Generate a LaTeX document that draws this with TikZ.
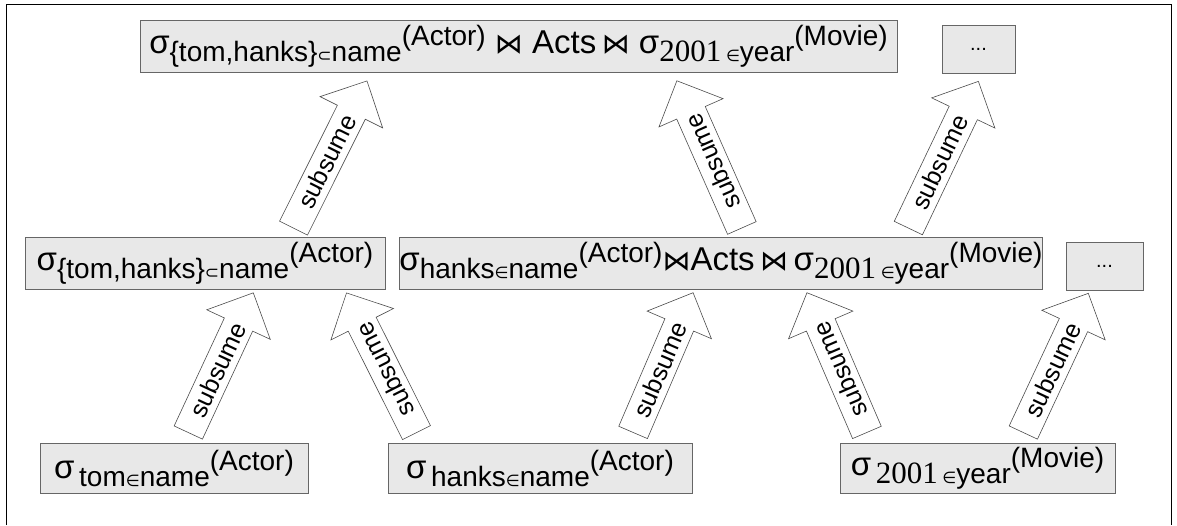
\documentclass[tikz,border=0pt]{standalone}
\usepackage{fontspec}
\setmainfont{Liberation Sans}
\newfontfamily\numfont{Liberation Serif}
\newfontfamily\symfont{DejaVu Sans}
\usetikzlibrary{shapes.arrows,calc}

% sub- and superscripts of the selections
\newcommand{\lowtxt}[1]{\raisebox{-8pt}{\fontsize{28}{28}\selectfont #1}}
\newcommand{\hightxt}[1]{\raisebox{8pt}{\fontsize{28}{28}\selectfont #1}}
\newcommand{\inop}{{\symfont\fontsize{16}{16}\selectfont ∈}}
\newcommand{\subop}{{\symfont\fontsize{17}{17}\selectfont ⊂}}
\newcommand{\joinop}{{\symfont\fontsize{28}{28}\selectfont ⋈}}
\newcommand{\yr}{{\numfont\fontsize{31}{31}\selectfont 2001}}

\newcommand{\subsumes}[2]{%
  \path let \p1=(#1), \p2=(#2),
    \n1={atan2(\y2-\y1,\x2-\x1)}, \n2={veclen(\x2-\x1,\y2-\y1)} in
    node[subarrow,rotate=\n1,minimum height=\n2] at ($(\p1)!.5!(\p2)$) {subsume};}

\begin{document}
\begin{tikzpicture}[x=1pt,y=-1pt,
    relbox/.style={draw=black!60,fill=black!9,line width=0.8pt,
      minimum height=52pt,inner sep=0pt,font=\fontsize{33}{34}\selectfont},
    subarrow/.style={single arrow,draw=black!70,fill=white,line width=0.6pt,
      single arrow head extend=18pt,single arrow head indent=0pt,
      minimum width=70pt,inner sep=5pt,font=\fontsize{25}{27}\selectfont}
    ]
  \useasboundingbox (0,0) rectangle (1177,525);
  \draw[line width=1pt] (6,525) -- (6,4) -- (1171,4) -- (1171,525);

  % level 3
  \node[relbox,minimum width=757pt] (top) at (518.5,46.5)
    {σ\lowtxt{\{tom,hanks\}\subop name}\hightxt{(Actor)} \joinop\ Acts\,\joinop\ σ\lowtxt{\yr\,\inop year}\hightxt{(Movie)}};
  \node[relbox,minimum width=73pt,minimum height=48pt,font=\fontsize{20}{22}\selectfont] (topdots) at (978.5,49) {...};

  % level 2
  \node[relbox,minimum width=360pt] (tomhanks) at (205,263.5)
    {σ\lowtxt{\{tom,hanks\}\subop name}\hightxt{(Actor)}};
  \node[relbox,minimum width=638pt] (hanksjoin) at (721,263.5)
    {σ\lowtxt{hanks\inop name}\hightxt{(Actor)}\joinop{}Acts\,\joinop\,σ\lowtxt{\yr\,\inop year}\hightxt{(Movie)}};
  \node[relbox,minimum width=77pt,minimum height=48pt,font=\fontsize{20}{22}\selectfont] (middots) at (1104.5,266) {...};

  % level 1
  \node[relbox,minimum width=268pt,minimum height=50pt] (tom) at (174,468)
    {σ\lowtxt{\,tom\inop name}\hightxt{(Actor)}};
  \node[relbox,minimum width=304pt,minimum height=50pt] (hanks) at (540,468)
    {σ\lowtxt{\,hanks\inop name}\hightxt{(Actor)}};
  \node[relbox,minimum width=275pt,minimum height=50pt] (year) at (977.5,468)
    {σ\lowtxt{\,\yr\,\inop year}\hightxt{(Movie)}};

  % subsumption arrows
  \subsumes{[xshift=85pt,yshift=2pt]tomhanks.north}{[xshift=-155pt,yshift=-15pt]top.south}
  \subsumes{[xshift=24pt,yshift=2pt]hanksjoin.north}{[xshift=161.5pt,yshift=-15pt]top.south}
  \subsumes{[xshift=184pt,yshift=2pt]hanksjoin.north}{[xshift=-3.5pt,yshift=-15pt]topdots.south}
  \subsumes{[xshift=11pt,yshift=3pt]tom.north}{[xshift=45pt,yshift=-10pt]tomhanks.south}
  \subsumes{[xshift=-120pt,yshift=3pt]hanks.north}{[xshift=145pt,yshift=-10pt]tomhanks.south}
  \subsumes{[xshift=90pt,yshift=3pt]hanks.north}{[xshift=-31pt,yshift=-10pt]hanksjoin.south}
  \subsumes{[xshift=-107.5pt,yshift=3pt]year.north}{[xshift=89pt,yshift=-10pt]hanksjoin.south}
  \subsumes{[xshift=42.5pt,yshift=3pt]year.north}{[xshift=-19.5pt,yshift=-10pt]middots.south}
\end{tikzpicture}
\end{document}
